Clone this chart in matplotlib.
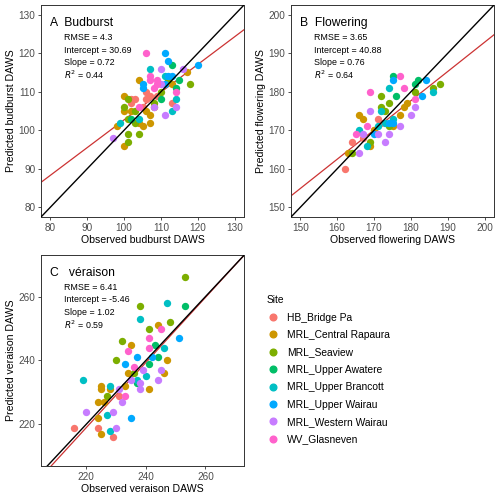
import numpy as np
from matplotlib import pyplot as plt
from matplotlib.lines import Line2D

plt.rcParams['font.family'] = ['Liberation Sans', 'DejaVu Sans']

sites = ["HB_Bridge Pa", "MRL_Central Rapaura", "MRL_Seaview", "MRL_Upper Awatere",
         "MRL_Upper Brancott", "MRL_Upper Wairau", "MRL_Western Wairau", "WV_Glasneven"]
site_colors = ["#F8766D", "#CD9600", "#7CAE00", "#00BE67",
               "#00BFC4", "#00A9FF", "#C77CFF", "#FF61CC"]

# Budburst: observed, predicted, site index
obs_A = [106, 111, 112, 113, 120, 107, 110, 116, 117, 118, 104, 107, 107, 105, 105, 111, 112, 113,
         109, 110, 109, 108, 115, 114, 114, 114, 113, 114, 113, 111, 110, 110, 109, 108, 108, 106,
         107, 100, 102, 103, 101, 100, 100, 102, 103, 106, 107, 107, 105, 103, 99, 98, 101, 102,
         101, 101, 104, 100, 97, 104, 104, 105, 104, 102, 108, 106, 111, 112, 113]
pred_A = [120, 120, 118, 117, 117, 116, 116, 116, 115, 112, 113, 114, 113, 112, 111, 114, 114, 114,
          113, 112, 112, 111, 113, 111, 110, 108, 107, 106, 105, 104, 108, 110, 109, 106, 106, 108,
          109, 109, 108, 108, 108, 106, 105, 105, 105, 105, 104, 102, 101, 102, 102, 101, 103, 103,
          99, 97, 99, 96, 98, 103, 102, 106, 106, 107, 107, 110, 112, 113, 112]
site_A = [7, 5, 5, 3, 5, 4, 6, 6, 1, 2, 1, 7, 7, 5, 5, 4, 5, 5,
          7, 6, 7, 7, 3, 3, 7, 4, 0, 6, 4, 6, 3, 2, 0, 1, 6, 0,
          0, 1, 0, 0, 2, 2, 1, 1, 2, 1, 1, 1, 1, 2, 4, 1, 2, 3,
          2, 2, 2, 1, 6, 4, 1, 0, 7, 0, 2, 0, 5, 2, 1]

# Flowering
obs_B = [175, 175, 177, 169, 174, 178, 181, 182, 184, 188, 186, 186, 183, 181, 172, 176, 181, 181,
         180, 169, 172, 172, 174, 173, 178, 179, 177, 166, 167, 175, 174, 173, 175, 177, 175, 174,
         171, 172, 168, 166, 165, 170, 171, 174, 173, 167, 164, 169, 169, 168, 166, 163, 164, 162,
         170, 171, 170, 167]
pred_B = [184, 183, 184, 180, 181, 181, 182, 183, 183, 182, 181, 180, 179, 180, 179, 179, 178, 176,
          174, 175, 175, 176, 177, 175, 176, 177, 174, 174, 173, 173, 172, 172, 172, 171, 171, 171,
          173, 172, 171, 170, 169, 169, 169, 169, 167, 168, 167, 167, 166, 166, 164, 164, 164, 160,
          170, 171, 170, 169]
site_B = [3, 5, 7, 7, 4, 7, 3, 3, 5, 2, 2, 4, 5, 2, 2, 3, 7, 6,
          6, 6, 4, 2, 2, 2, 1, 1, 1, 1, 1, 4, 5, 4, 5, 6, 1, 2,
          0, 0, 7, 4, 7, 5, 6, 6, 6, 0, 0, 2, 1, 4, 6, 1, 2, 0,
          0, 4, 1, 6]

# Veraison
obs_C = [253, 238, 247, 253, 238, 248, 241, 244, 245, 251, 232, 235, 243, 246, 241, 234, 230, 237,
         241, 244, 247, 233, 219, 225, 225, 228, 224, 220, 226, 227, 224, 216, 224, 228, 225, 229,
         230, 229, 235, 233, 233, 231, 232, 237, 238, 241, 239, 246, 245, 244, 236, 237, 236, 241,
         234, 235, 228, 231, 242, 227, 238, 240]
pred_C = [266, 257, 258, 257, 253, 252, 250, 251, 250, 247, 246, 245, 245, 244, 244, 243, 240, 241,
          239, 241, 240, 239, 234, 231, 232, 232, 227, 224, 227, 223, 222, 219, 219, 218, 217, 216,
          219, 224, 222, 232, 229, 229, 227, 233, 231, 231, 237, 236, 237, 234, 236, 234, 238, 247,
          236, 234, 231, 231, 241, 229, 233, 235]
site_C = [2, 2, 4, 3, 4, 2, 2, 1, 7, 5, 2, 1, 3, 4, 7, 7, 2, 5,
          3, 3, 1, 5, 4, 1, 1, 4, 1, 6, 1, 4, 1, 0, 0, 4, 1, 0,
          6, 6, 5, 1, 7, 0, 6, 3, 6, 1, 6, 1, 6, 6, 2, 4, 7, 7,
          1, 6, 1, 6, 5, 2, 6, 4]

panels = [
    ("A", "Budburst", "budburst", obs_A, pred_A, site_A, (77.5, 132.5), (77.5, 132.5),
     [80, 90, 100, 110, 120, 130], [80, 90, 100, 110, 120, 130], "4.3", "30.69", "0.72", "0.44"),
    ("B", "Flowering", "flowering", obs_B, pred_B, site_B, (147.5, 202.5), (147.5, 202.5),
     [150, 160, 170, 180, 190, 200], [150, 160, 170, 180, 190, 200], "3.65", "40.88", "0.76", "0.64"),
    ("C", "véraison", "veraison", obs_C, pred_C, site_C, (204.9, 272.9), (207.0, 273.0),
     [220, 240, 260], [220, 240, 260], "6.41", "-5.46", "1.02", "0.59"),
]

boxes = [(0.082, 0.566, 0.406, 0.424), (0.582, 0.566, 0.406, 0.424), (0.082, 0.068, 0.406, 0.422)]

fig = plt.figure(figsize=(5, 5), dpi=100)

for box, (letter, name, word, obs, pred, site, xl, yl, xt, yt, rmse, icpt, slope, r2) in zip(boxes, panels):
    ax = fig.add_axes(box)
    obs = np.array(obs)
    pred = np.array(pred)
    site = np.array(site)
    xx = np.array(xl)
    ax.plot(xx, float(icpt) + float(slope) * xx, color="#CC3333", lw=0.9, zorder=1)
    for k in range(len(sites)):
        m = site == k
        ax.scatter(obs[m], pred[m], s=28, color=site_colors[k], lw=0, zorder=2)
    ax.plot([0, 400], [0, 400], color="black", lw=1.0, zorder=3)
    ax.set_xlim(xl)
    ax.set_ylim(yl)
    ax.set_xticks(xt)
    ax.set_yticks(yt)
    ax.tick_params(labelsize=7.2, colors="#333333", labelcolor="#4D4D4D", length=2.5, width=0.6, pad=1.5)
    for sp in ax.spines.values():
        sp.set_color("#333333")
        sp.set_linewidth(0.7)
    ax.set_xlabel("Observed %s DAWS" % word, fontsize=7.6, labelpad=1.5)
    ax.set_ylabel("Predicted %s DAWS" % word, fontsize=7.6, labelpad=2)
    gap = "   " if letter == "C" else "  "
    ax.text(0.045, 0.915, letter + gap + name, transform=ax.transAxes, fontsize=8.7, va="center")
    stats = ["RMSE = " + rmse, "Intercept = " + icpt, "Slope = " + slope, "$R^2$ = " + r2]
    for i, s in enumerate(stats):
        ax.text(0.115, 0.845 - i * 0.058, s, transform=ax.transAxes, fontsize=6.4, va="center")

handles = [Line2D([], [], marker="o", ls="", color=c, markersize=4.8) for c in site_colors]
leg = fig.legend(handles, sites, loc="upper left", bbox_to_anchor=(0.515, 0.428), frameon=False,
                 title="Site", fontsize=7.4, title_fontsize=7.4, labelspacing=0.72,
                 handletextpad=0.8, handlelength=1.2)
leg._legend_box.align = "left"

plt.savefig("out.png", dpi=100)
